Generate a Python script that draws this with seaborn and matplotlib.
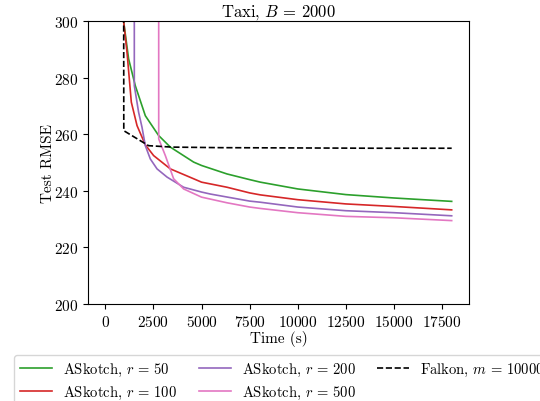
import numpy as np
import pandas as pd
import matplotlib
matplotlib.use("Agg")
import matplotlib.pyplot as plt
import seaborn as sns

# Test RMSE vs wall-clock time on Taxi (block size B = 2000)
t_r50 = [900, 951, 1211, 1559, 2079, 2770, 3378, 4589, 5000, 6325, 7500, 8056,
         10000, 12500, 15000, 18000]
rmse_r50 = [400, 300, 286.7, 277.2, 266.6, 259.6, 255.5, 250.2, 249.0, 246.0, 244.0, 243.1,
            240.7, 238.7, 237.5, 236.3]

t_r100 = [900, 951, 1128, 1351, 1648, 2079, 2510, 3378, 4589, 5000, 6325, 7500, 8056,
          10000, 12500, 15000, 18000]
rmse_r100 = [400, 300, 289.0, 271.4, 263.1, 256.3, 252.5, 247.8, 244.3, 243.1, 241.3, 239.3, 238.6,
             236.9, 235.4, 234.5, 233.3]

t_r200 = [1500, 1507, 1731, 1907, 2079, 2339, 2687, 3206, 4070, 5000, 5457, 7500, 8056,
          10000, 12500, 15000, 18000]
rmse_r200 = [1000, 277.2, 267.8, 262.5, 256.0, 251.3, 247.8, 244.9, 241.3, 239.6, 238.9, 236.4, 236.0,
             234.3, 233.0, 232.3, 231.2]

t_r500 = [2760, 2775, 3119, 3550, 4070, 5000, 6325, 7500, 8056,
          10000, 12500, 15000, 18000]
rmse_r500 = [1000, 258.4, 252.5, 244.3, 240.7, 237.8, 235.8, 234.3, 233.8,
             232.3, 231.0, 230.5, 229.5]

t_falkon = [940, 960, 2250, 3470, 6000, 10000, 14000, 18000]
rmse_falkon = [420, 261.3, 256.0, 255.5, 255.3, 255.2, 255.1, 255.1]

labels = [r"ASkotch, $r\,=\,50$", r"ASkotch, $r\,=\,100$", r"ASkotch, $r\,=\,200$",
          r"ASkotch, $r\,=\,500$", r"Falkon, $m\,=\,10000$"]
colors = ["#2ca02c", "#d62728", "#9467bd", "#e377c2", "black"]

plt.rcParams.update({
    "font.family": "serif",
    "font.serif": ["cmr10", "DejaVu Serif"],
    "mathtext.fontset": "cm",
    "axes.formatter.use_mathtext": True,
    "axes.unicode_minus": False,
    "font.size": 11,
})

series = [(t_r50, rmse_r50), (t_r100, rmse_r100), (t_r200, rmse_r200),
          (t_r500, rmse_r500), (t_falkon, rmse_falkon)]

fig = plt.figure(figsize=(5.4, 4.02), dpi=100)
ax = fig.add_axes([88 / 540, 1 - 305 / 402, (469 - 88) / 540, (305 - 22.3) / 402])

for (t, y), lab, col in zip(series, labels, colors):
    df = pd.DataFrame({"time": t, "rmse": y})
    ls = "--" if lab.startswith("Falkon") else "-"
    sns.lineplot(data=df, x="time", y="rmse", ax=ax, color=col, label=lab,
                 linestyle=ls, linewidth=1.2, estimator=None, sort=False)

ax.set_xlim(-900, 18900)
ax.set_ylim(200, 300)
ax.set_xticks(np.arange(0, 17501, 2500))
ax.set_yticks(np.arange(200, 301, 20))
ax.tick_params(labelsize=11)
ax.set_xlabel("Time (s)", fontsize=11, labelpad=1)
ax.set_ylabel("Test RMSE", fontsize=11, labelpad=-1)
ax.set_title(r"Taxi, $B\,=\,2000$", fontsize=12, pad=4)

ax.legend(loc="upper center", bbox_to_anchor=(0.51, -0.18), borderaxespad=0,
          ncol=3, frameon=True, fancybox=True, fontsize=10.5,
          handlelength=2.2, columnspacing=1.5, handletextpad=0.75, labelspacing=0.4)

fig.savefig("out.png", dpi=100)
